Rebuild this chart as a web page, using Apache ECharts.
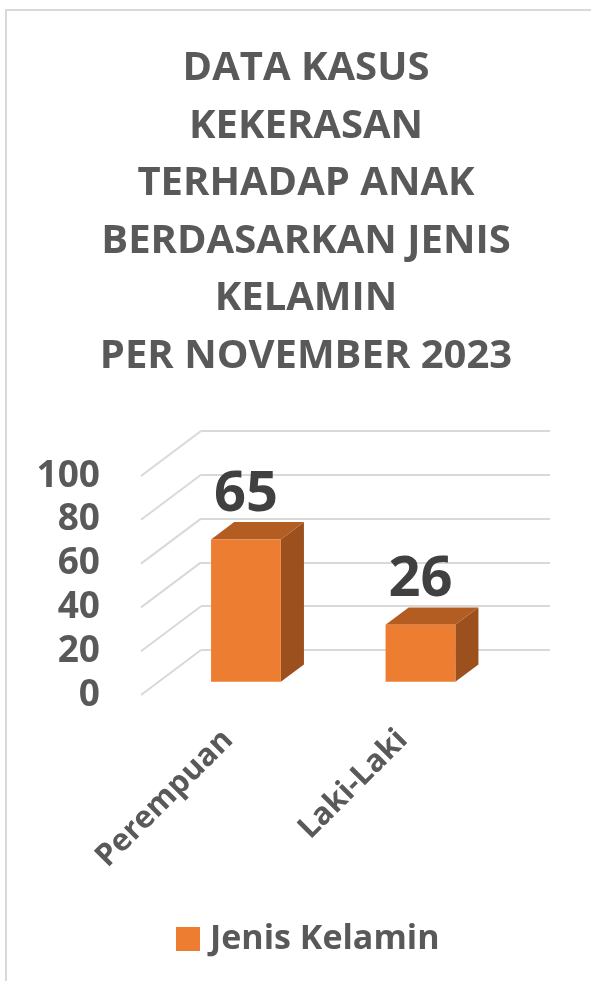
<!DOCTYPE html>
<html>
<head>
<meta charset="utf-8">
<script src="https://cdn.jsdelivr.net/npm/echarts@6/dist/echarts.min.js"></script>
<style>
  html, body { margin: 0; padding: 0; background: #fff; }
  #chart { width: 591px; height: 981px; }
</style>
</head>
<body>
<div id="chart"></div>
<script>
// data
const categories = ['Perempuan', 'Laki-Laki'];
const seriesName = 'Jenis Kelamin';
const values = [65, 26];
const yTicks = [0, 20, 40, 60, 80, 100];
const titleLines = [
  'DATA KASUS',
  'KEKERASAN',
  'TERHADAP ANAK',
  'BERDASARKAN JENIS',
  'KELAMIN',
  'PER NOVEMBER 2023'
];

// fake 3d: floor depth vector (back wall -> front edge)
const DEPTH_DX = -60;
const DEPTH_DY = 45;
const BAR_FRONT = 0.705; // bar front plane, fraction of depth
const BAR_BACK = 0.32;
const FONT = '"Open Sans", "Noto Sans", sans-serif';
const TEXT_COLOR = '#595959';
const GRID_COLOR = '#d9d9d9';

const chart = echarts.init(document.getElementById('chart'));

const option = {
  animation: false,
  backgroundColor: '#fff',
  title: {
    text: titleLines.join('\n'),
    left: 301,
    top: 35,
    textAlign: 'center',
    textStyle: {
      fontFamily: FONT,
      fontWeight: 'bold',
      fontSize: 40,
      lineHeight: 57.5,
      color: TEXT_COLOR
    }
  },
  legend: {
    data: [{ name: seriesName, icon: 'rect' }],
    left: 171,
    top: 917,
    itemWidth: 24,
    itemHeight: 24,
    selectedMode: false,
    textStyle: {
      fontFamily: FONT,
      fontWeight: 'bold',
      fontSize: 34,
      color: TEXT_COLOR,
      padding: [0, 0, 0, 5]
    }
  },
  graphic: [
    {
      type: 'rect',
      shape: { x: 6, y: 10, width: 700, height: 1100 },
      style: { fill: 'none', stroke: GRID_COLOR, lineWidth: 2 },
      silent: true,
      z: -10
    }
  ],
  grid: [
    // back wall
    { left: 201, right: 41, top: 431, bottom: 331 },
    // front edge of the floor
    { left: 141, right: 101, top: 476, bottom: 286 }
  ],
  xAxis: [
    { type: 'category', gridIndex: 0, data: categories, show: false },
    {
      type: 'category',
      gridIndex: 1,
      data: categories,
      axisLine: { show: false },
      axisTick: { show: false },
      axisLabel: {
        rotate: 45,
        margin: 40,
        fontFamily: FONT,
        fontWeight: 'bold',
        fontSize: 31,
        color: TEXT_COLOR
      }
    }
  ],
  yAxis: [
    {
      type: 'value',
      gridIndex: 0,
      min: 0,
      max: 100,
      interval: 20,
      axisLabel: { show: false },
      axisLine: { show: false },
      axisTick: { show: false },
      splitLine: { lineStyle: { color: GRID_COLOR, width: 2 } }
    },
    {
      type: 'value',
      gridIndex: 1,
      min: 0,
      max: 100,
      interval: 20,
      axisLine: { show: false },
      axisTick: { show: false },
      splitLine: { show: false },
      axisLabel: {
        margin: 41,
        fontFamily: FONT,
        fontWeight: 'bold',
        fontSize: 37,
        color: TEXT_COLOR
      }
    }
  ],
  series: [
    {
      // slanted floor/side-wall gridlines
      type: 'custom',
      xAxisIndex: 0,
      yAxisIndex: 0,
      silent: true,
      clip: false,
      data: yTicks.map(v => [0, v]),
      renderItem: function (params, api) {
        const p = api.coord([0, api.value(1)]);
        const x0 = params.coordSys.x;
        return {
          type: 'line',
          shape: { x1: x0, y1: p[1], x2: x0 + DEPTH_DX, y2: p[1] + DEPTH_DY },
          style: { stroke: GRID_COLOR, lineWidth: 2 }
        };
      }
    },
    {
      name: seriesName,
      type: 'custom',
      xAxisIndex: 0,
      yAxisIndex: 0,
      clip: false,
      itemStyle: { color: '#ed7d31' },
      data: values.map((v, i) => [i, v]),
      renderItem: function (params, api) {
        const base = api.coord([api.value(0), 0]);
        const top = api.coord([api.value(0), api.value(1)]);
        const w = api.size([1, 0])[0] * 0.4;
        const fx = DEPTH_DX * BAR_FRONT, fy = DEPTH_DY * BAR_FRONT;
        const bx = DEPTH_DX * BAR_BACK, by = DEPTH_DY * BAR_BACK;
        const fl = base[0] + fx - w / 2, fr = base[0] + fx + w / 2;
        const bl = base[0] + bx - w / 2, br = base[0] + bx + w / 2;
        const fTop = top[1] + fy, fBot = base[1] + fy;
        const bTop = top[1] + by, bBot = base[1] + by;
        return {
          type: 'group',
          children: [
            {
              type: 'polygon',
              shape: { points: [[fr, fTop], [br, bTop], [br, bBot], [fr, fBot]] },
              style: { fill: '#9b501e' }
            },
            {
              type: 'polygon',
              shape: { points: [[fl, fTop], [fr, fTop], [br, bTop], [bl, bTop]] },
              style: { fill: '#b45d23' }
            },
            {
              type: 'rect',
              shape: { x: fl, y: fTop, width: w, height: fBot - fTop },
              style: { fill: '#ed7d31' }
            },
            {
              type: 'text',
              style: {
                text: String(api.value(1)),
                x: base[0] + fx,
                y: bTop - 27,
                align: 'center',
                verticalAlign: 'middle',
                fontFamily: FONT,
                fontWeight: 'bold',
                fontSize: 56,
                fill: '#404040'
              }
            }
          ]
        };
      }
    }
  ]
};

chart.setOption(option);
window.addEventListener('resize', () => chart.resize());
</script>
</body>
</html>
